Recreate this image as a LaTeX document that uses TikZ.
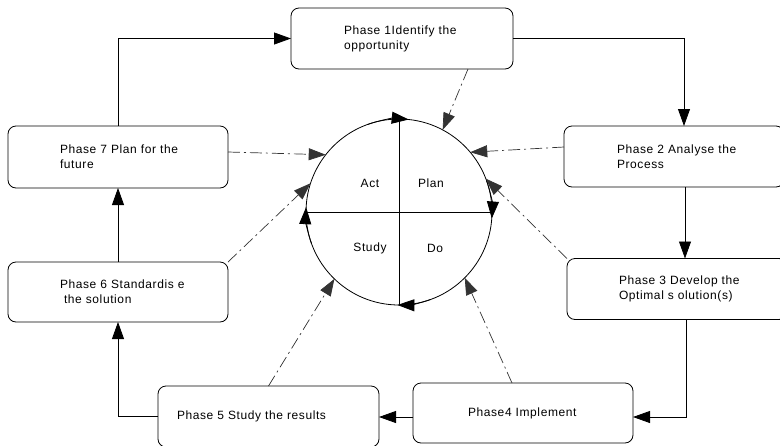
\documentclass[tikz,border=0pt]{standalone}
\usepackage{fontspec}
\setmainfont{Liberation Sans}[LetterSpace=5]
\usetikzlibrary{arrows.meta}
\begin{document}
\begin{tikzpicture}[x=1pt,y=-1pt,
  box/.style={draw, line width=0.8pt, rounded corners=8pt, minimum height=61pt,
    minimum width=220pt, align=left, inner sep=0pt, outer sep=0pt,
    font=\fontsize{12}{15}\selectfont},
  lbl/.style={inner sep=0pt, font=\fontsize{12}{14}\selectfont},
  tip/.style={-{Triangle[length=17pt,width=12pt]}},
  flow/.style={draw, line width=0.8pt, tip},
  hint/.style={draw, line width=0.7pt, dash pattern=on 12pt off 4pt on 2pt off 4pt, tip, black!80},
  ring/.style={line width=0.8pt}]
\useasboundingbox (0,0) rectangle (780,445);

% boxes
\node[box, minimum width=222pt, text width=116pt] (p1) at (402,38.5) {\mbox{Phase 1Identify the}\\\mbox{opportunity}};
\node[box, text width=114pt] (p2) at (674,156.5) {\mbox{Phase 2 Analyse the}\\\mbox{Process}};
\node[box, text width=116pt] (p3) at (677,289) {\mbox{Phase 3 Develop the}\\\mbox{Optimal s olution(s)}};
\node[box, minimum height=60pt, text width=110pt] (p4) at (523,413) {\mbox{Phase4 Implement}};
\node[box, minimum width=221pt, text width=183pt] (p5) at (268.5,416.5) {\mbox{Phase 5 Study the results}};
\node[box, minimum height=60pt, text width=116pt] (p6) at (118,292) {\mbox{Phase 6 Standardis e}\\\mbox{\ the solution}};
\node[box, minimum height=62pt, text width=116pt] (p7) at (118,157) {\mbox{Phase 7 Plan for the}\\\mbox{future}};

% PDSA circle
\node[draw, circle, minimum size=186pt, inner sep=0pt, outer sep=0pt, line width=0.8pt] (c) at (399,212) {};
\draw[ring] (c.north) -- (c.south);
\draw[ring] (c.west) -- (c.east);
\node[lbl] (act) at (370,183) {Act};
\node[lbl] (plan) at (431,183) {Plan};
\node[lbl] (study) at (370,248) {Study};
\node[lbl] (do) at (435,248) {Do};

% arrowheads on the circle (clockwise)
\draw[ring, tip] (c.110) arc[start angle=-110, end angle=-84, radius=93];
\draw[ring, tip] (c.20) arc[start angle=-20, end angle=4, radius=93];
\draw[ring, tip] (c.-70) arc[start angle=70, end angle=91, radius=93];
\draw[ring, tip] (c.200) arc[start angle=-200, end angle=-177, radius=93];

% main cycle
\draw[flow] (p7.north) |- (p1.west);
\draw[flow] (p1.east) -| ([xshift=10pt]p2.north);
\draw[flow] ([xshift=11pt]p2.south) -- ([xshift=11pt]p2.south |- p3.north);
\draw[flow] ([xshift=9pt]p3.south) |- ([yshift=-4pt]p4.east);
\draw[flow] ([yshift=-4pt]p4.west) -- ([yshift=-4pt]p4.west -| p5.east);
\draw[flow] (p5.west) -| (p6.south);
\draw[flow] (p6.north) -- (p7.south);

% links to the circle
\draw[hint] ([xshift=66pt]p1.south) -- (c.62);
\draw[hint] ([yshift=9.5pt]p2.west) -- (c.40);
\draw[hint] (p3.north west) -- (c.21);
\draw[hint] ([xshift=-11pt]p4.north) -- (c.-45);
\draw[hint] (p5.north) -- (c.226);
\draw[hint] (p6.north east) -- (c.162);
\draw[hint] ([yshift=5pt]p7.east) -- (c.142.5);
\end{tikzpicture}
\end{document}
